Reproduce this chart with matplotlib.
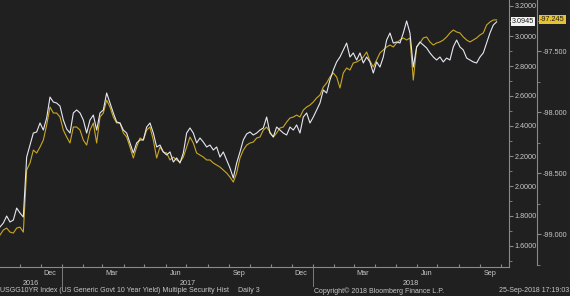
import matplotlib
matplotlib.use("Agg")
import matplotlib.pyplot as plt
import matplotlib.dates as mdates
from matplotlib.ticker import MultipleLocator, FormatStrFormatter, NullFormatter
import pandas as pd

plt.rcParams['axes.unicode_minus'] = False
plt.rcParams['font.family'] = ['Liberation Sans', 'DejaVu Sans']

# ---------------- data ----------------
start_date = "2016-10-03"
end_date = "2018-09-25"

# USGG10YR yield (left/inner axis)
yield_10y = [
    1.727, 1.753, 1.800, 1.760, 1.773, 1.853, 1.820, 1.793, 2.193, 2.273,
    2.353, 2.360, 2.420, 2.373, 2.453, 2.593, 2.560, 2.553, 2.533, 2.440,
    2.380, 2.353, 2.487, 2.507, 2.487, 2.440, 2.353, 2.440, 2.473, 2.373,
    2.487, 2.507, 2.620, 2.553, 2.487, 2.427, 2.420, 2.373, 2.353, 2.287,
    2.220, 2.287, 2.307, 2.307, 2.393, 2.420, 2.353, 2.260, 2.273, 2.227,
    2.207, 2.227, 2.160, 2.187, 2.153, 2.220, 2.353, 2.387, 2.353, 2.287,
    2.320, 2.293, 2.260, 2.273, 2.240, 2.260, 2.193, 2.227, 2.173, 2.120,
    2.053, 2.153, 2.227, 2.307, 2.347, 2.360, 2.340, 2.353, 2.373, 2.387,
    2.460, 2.353, 2.327, 2.393, 2.373, 2.353, 2.340, 2.393, 2.373, 2.407,
    2.353, 2.460, 2.487, 2.420, 2.460, 2.507, 2.553, 2.640, 2.620, 2.707,
    2.773, 2.827, 2.860, 2.907, 2.953, 2.860, 2.887, 2.840, 2.887, 2.820,
    2.860, 2.827, 2.753, 2.827, 2.793, 2.860, 2.973, 3.020, 2.953, 2.960,
    2.953, 3.020, 3.100, 3.020, 2.793, 2.927, 2.960, 2.940, 2.920, 2.887,
    2.860, 2.840, 2.860, 2.827, 2.853, 2.840, 2.927, 2.973, 2.927, 2.907,
    2.853, 2.840, 2.827, 2.820, 2.860, 2.887, 2.953, 3.020, 3.073, 3.0945,
]

# Second security (outer axis)
second_security = [
    -99.008, -98.967, -98.951, -98.984, -98.992, -98.951, -98.943, -98.984, -98.475, -98.418,
    -98.312, -98.336, -98.287, -98.230, -98.107, -97.959, -98.008, -98.008, -98.041, -98.148,
    -98.205, -98.254, -98.123, -98.123, -98.148, -98.230, -98.271, -98.148, -98.090, -98.254,
    -98.041, -98.008, -97.902, -97.959, -98.041, -98.090, -98.090, -98.172, -98.205, -98.287,
    -98.377, -98.287, -98.213, -98.230, -98.148, -98.123, -98.230, -98.377, -98.287, -98.328,
    -98.336, -98.393, -98.369, -98.393, -98.410, -98.369, -98.287, -98.205, -98.254, -98.336,
    -98.352, -98.369, -98.393, -98.393, -98.418, -98.434, -98.451, -98.475, -98.500, -98.533,
    -98.574, -98.500, -98.377, -98.312, -98.271, -98.254, -98.246, -98.213, -98.205, -98.148,
    -98.123, -98.164, -98.205, -98.172, -98.131, -98.123, -98.082, -98.049, -98.041, -98.025,
    -98.041, -97.984, -97.959, -97.943, -97.918, -97.885, -97.861, -97.795, -97.762, -97.713,
    -97.680, -97.713, -97.803, -97.680, -97.639, -97.656, -97.598, -97.590, -97.574, -97.549,
    -97.508, -97.582, -97.631, -97.574, -97.516, -97.492, -97.467, -97.451, -97.467, -97.434,
    -97.410, -97.393, -97.410, -97.393, -97.738, -97.467, -97.434, -97.393, -97.385, -97.426,
    -97.451, -97.434, -97.426, -97.410, -97.385, -97.352, -97.328, -97.344, -97.352, -97.385,
    -97.410, -97.426, -97.410, -97.393, -97.369, -97.352, -97.287, -97.262, -97.246, -97.245,
]

month_labels = ["Dec", "Mar", "Jun", "Sep", "Dec", "Mar", "Jun", "Sep"]
month_label_dates = ["2016-12-15", "2017-03-15", "2017-06-15", "2017-09-15",
                     "2017-12-15", "2018-03-15", "2018-06-15", "2018-09-15"]
years = [2016, 2017, 2018]

footer_left = "USGG10YR Index (US Generic Govt 10 Year Yield) Multiple Security Hist"
footer_mid = "Daily 3"
footer_copy = "Copyright\u00a9 2018 Bloomberg Finance L.P."
footer_time = "25-Sep-2018 17:19:03"

dates = pd.date_range(start_date, end_date, periods=len(yield_10y))

# ---------------- style ----------------
BG = "#202020"
TXT = "#c8c8c8"
AXC = "#8a8a8a"
WHITE_LINE = "#e6e8f2"
GOLD = "#c9a825"

W, H = 570, 296
fig = plt.figure(figsize=(W / 100, H / 100), dpi=100, facecolor=BG)
ax = fig.add_axes([0.0, 29 / H, 509 / W, 267 / H], facecolor=BG)
ax2 = ax.twinx()
ax2.set_zorder(ax.get_zorder() - 1)
ax.patch.set_visible(False)
ax2.patch.set_visible(True)
ax2.patch.set_facecolor(BG)

ax2.plot(dates, second_security, color=GOLD, lw=0.8)
ax.plot(dates, yield_10y, color=WHITE_LINE, lw=0.8)

xmin = pd.Timestamp("2016-10-03")
xmax = pd.Timestamp("2018-10-13")
ax.set_xlim(xmin, xmax)
ax.set_ylim(1.46, 3.24)
ax2.set_ylim(-99.270, -97.082)

for a in (ax, ax2):
    for s in ("top", "left"):
        a.spines[s].set_visible(False)
ax.spines["bottom"].set_color(AXC)
ax.spines["right"].set_color(AXC)
ax2.spines["bottom"].set_visible(False)
ax2.spines["right"].set_color(AXC)
ax2.spines["right"].set_position(("axes", 537 / 509))
ax2.spines["right"].set_bounds(-99.25, -97.082)

# y axes
ax.yaxis.tick_right()
ax.yaxis.set_major_locator(MultipleLocator(0.2))
ax.yaxis.set_minor_locator(MultipleLocator(0.1))
ax.yaxis.set_major_formatter(FormatStrFormatter("%.4f"))
ax.tick_params(axis="y", which="major", direction="out", length=3, color=AXC,
               labelcolor=TXT, labelsize=5.2, pad=1)
ax.tick_params(axis="y", which="minor", direction="out", length=2, color=AXC)

ax2.yaxis.set_major_locator(MultipleLocator(0.5))
ax2.yaxis.set_minor_locator(MultipleLocator(0.25))
ax2.yaxis.set_major_formatter(FormatStrFormatter("%.3f"))
ax2.tick_params(axis="y", which="major", direction="out", length=3, color=AXC,
                labelcolor=TXT, labelsize=5.2, pad=1)
ax2.tick_params(axis="y", which="minor", direction="out", length=2, color=AXC)

# x axis
ax.xaxis.set_major_locator(mdates.MonthLocator())
ax.xaxis.set_major_formatter(NullFormatter())
ax.tick_params(axis="x", which="major", direction="in", length=2.5, color=AXC)
ax2.tick_params(axis="x", which="both", length=0)

xt = ax.get_xaxis_transform()
for lab, d in zip(month_labels, month_label_dates):
    ax.text(pd.Timestamp(d), -0.012, lab, transform=xt, ha="center", va="top",
            color=TXT, fontsize=5.2, clip_on=False)

lo, hi = mdates.date2num(xmin), mdates.date2num(xmax)
for yr in years:
    a = max(lo, mdates.date2num(pd.Timestamp(f"{yr}-01-01")))
    b = min(hi, mdates.date2num(pd.Timestamp(f"{yr + 1}-01-01")))
    ax.text((a + b) / 2, -0.05, str(yr), transform=xt, ha="center", va="top",
            color=TXT, fontsize=5.2, clip_on=False)
    if yr > years[0]:
        jan = mdates.date2num(pd.Timestamp(f"{yr}-01-01"))
        ax.plot([jan, jan], [0, -0.07], transform=xt, color=AXC, lw=0.6,
                clip_on=False)

# last-value tags
ty = ax.get_yaxis_transform()
ax.text(512 / 509, yield_10y[-1], f"{yield_10y[-1]:.4f}", transform=ty,
        ha="left", va="center", fontsize=5.2, color="#202020", clip_on=False,
        bbox=dict(boxstyle="square,pad=0.15", fc="#f4f4f4", ec="none"))
ty2 = ax2.get_yaxis_transform()
ax2.text(540 / 509, second_security[-1], f"{second_security[-1]:.3f}", transform=ty2,
         ha="left", va="center", fontsize=5.2, color="#202020", clip_on=False,
         bbox=dict(boxstyle="square,pad=0.15", fc="#e8c22a", ec="none"))

# footer
fy = 1 - 291 / H
fig.text(0.0, fy, footer_left, ha="left", va="center", color=TXT, fontsize=5.0)
fig.text(238 / W, fy, footer_mid, ha="left", va="center", color=TXT, fontsize=5.0)
fig.text(314 / W, fy, footer_copy, ha="left", va="center", color=TXT, fontsize=5.0)
fig.text(569 / W, fy, footer_time, ha="right", va="center", color=TXT, fontsize=5.0)

fig.savefig("out.png", dpi=100, facecolor=BG)
